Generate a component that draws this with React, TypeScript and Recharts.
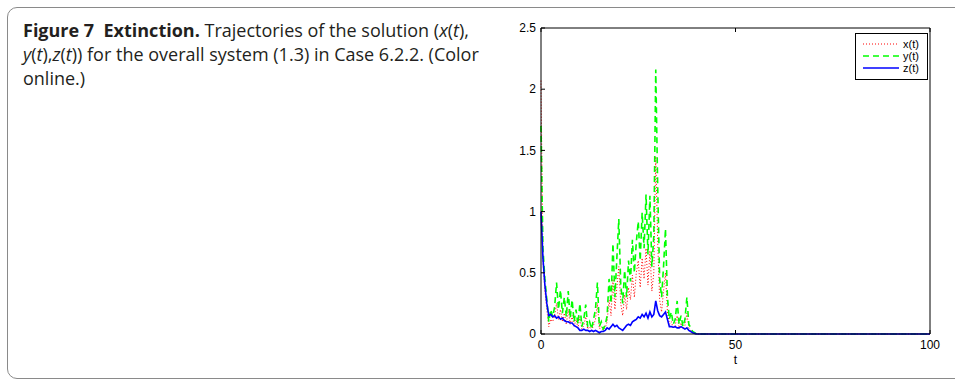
import { LineChart, Line, XAxis, YAxis, Legend } from "recharts";

// sampled every 0.5 up to t = 40, then flat at zero
const tValues = [
  0, 0.5, 1, 1.5, 2, 2.5, 3, 3.5, 4, 4.5, 5, 5.5, 6, 6.5, 7, 7.5, 8, 8.5, 9, 9.5,
  10, 10.5, 11, 11.5, 12, 12.5, 13, 13.5, 14, 14.5, 15, 15.5, 16, 16.5, 17, 17.5, 18, 18.5, 19, 19.5,
  20, 20.5, 21, 21.5, 22, 22.5, 23, 23.5, 24, 24.5, 25, 25.5, 26, 26.5, 27, 27.5, 28, 28.5, 29, 29.5,
  30, 30.5, 31, 31.5, 32, 32.5, 33, 33.5, 34, 34.5, 35, 35.5, 36, 36.5, 37, 37.5, 38, 38.5, 39, 39.5,
  40, 100,
];

const xValues = [
  2.07, 0.6, 0.35, 0.2, 0.06, 0.12, 0.1, 0.15, 0.25, 0.12, 0.2, 0.1, 0.17, 0.08, 0.2, 0.08, 0.15, 0.06, 0.12, 0.05,
  0.14, 0.04, 0.07, 0.14, 0.04, 0.06, 0.03, 0.07, 0.12, 0.25, 0.04, 0.06, 0.03, 0.05, 0.1, 0.28, 0.15, 0.45, 0.2, 0.38,
  0.55, 0.25, 0.15, 0.32, 0.2, 0.38, 0.28, 0.48, 0.3, 0.5, 0.6, 0.38, 0.62, 0.45, 0.7, 0.4, 0.68, 0.35, 0.5, 1.45,
  0.75, 0.28, 0.18, 0.35, 0.5, 0.18, 0.08, 0.1, 0.05, 0.07, 0.15, 0.05, 0.09, 0.04, 0.07, 0.17, 0.05, 0.03, 0.01, 0.005,
  0, 0,
];

const yValues = [
  1.7, 0.7, 0.45, 0.28, 0.1, 0.2, 0.14, 0.22, 0.42, 0.2, 0.36, 0.17, 0.3, 0.14, 0.35, 0.13, 0.28, 0.1, 0.2, 0.08,
  0.25, 0.06, 0.12, 0.24, 0.06, 0.1, 0.04, 0.12, 0.2, 0.42, 0.06, 0.1, 0.04, 0.07, 0.15, 0.45, 0.25, 0.74, 0.3, 0.62,
  0.94, 0.4, 0.25, 0.52, 0.3, 0.6, 0.43, 0.77, 0.5, 0.75, 0.92, 0.6, 0.99, 0.7, 1.14, 0.65, 1.13, 0.55, 0.8, 2.16,
  1.2, 0.45, 0.3, 0.55, 0.86, 0.3, 0.12, 0.18, 0.08, 0.12, 0.27, 0.08, 0.15, 0.06, 0.12, 0.3, 0.08, 0.05, 0.02, 0.01,
  0, 0,
];

const zValues = [
  1.0, 0.62, 0.4, 0.25, 0.15, 0.16, 0.14, 0.15, 0.13, 0.14, 0.12, 0.13, 0.11, 0.1, 0.1, 0.09, 0.09, 0.07, 0.06, 0.05,
  0.03, 0.03, 0.04, 0.03, 0.03, 0.02, 0.03, 0.02, 0.03, 0.02, 0.01, 0.02, 0.02, 0.03, 0.05, 0.04, 0.06, 0.08, 0.06, 0.07,
  0.05, 0.04, 0.03, 0.05, 0.07, 0.08, 0.07, 0.1, 0.11, 0.12, 0.14, 0.13, 0.16, 0.14, 0.17, 0.13, 0.18, 0.14, 0.16, 0.27,
  0.19, 0.15, 0.14, 0.16, 0.18, 0.12, 0.06, 0.06, 0.055, 0.06, 0.05, 0.05, 0.06, 0.05, 0.04, 0.05, 0.03, 0.02, 0.01, 0.005,
  0, 0,
];

const xTicks = [0, 50, 100];
const yTicks = [0, 0.5, 1, 1.5, 2, 2.5];

const seriesInfo = [
  { key: "x", label: "x(t)", color: "#ff0000", dash: "1 2", width: 1 },
  { key: "y", label: "y(t)", color: "#00ff00", dash: "6 4", width: 1.6 },
  { key: "z", label: "z(t)", color: "#0000ff", dash: undefined, width: 1.6 },
];

const data = tValues.map((t, i) => ({
  t,
  x: xValues[i],
  y: yValues[i],
  z: zValues[i],
}));

const tickFont = { fontFamily: '"Liberation Sans", Arial, sans-serif', fontSize: 12, fill: "#000" };

function LegendBox() {
  return (
    <div
      style={{
        boxSizing: "border-box",
        border: "1px solid #000",
        background: "#fff",
        width: 73,
        height: 47,
        paddingTop: 4,
        fontFamily: '"Liberation Sans", Arial, sans-serif',
        fontSize: 11,
        lineHeight: "12px",
        color: "#000",
      }}
    >
      {seriesInfo.map((s) => (
        <div key={s.key} style={{ display: "flex", alignItems: "center", height: 12 }}>
          <svg width={46} height={12} style={{ display: "block" }}>
            <line
              x1={7}
              x2={43}
              y1={6}
              y2={6}
              stroke={s.color}
              strokeWidth={s.width}
              strokeDasharray={s.dash}
            />
          </svg>
          <span style={{ marginLeft: 1 }}>{s.label}</span>
        </div>
      ))}
    </div>
  );
}

export default function App() {
  return (
    <div style={{ position: "absolute", left: 0, top: 0, width: 955, height: 380, background: "#fff", overflow: "hidden" }}>
      <div
        style={{
          position: "absolute",
          left: 7,
          top: 7,
          width: 1000,
          height: 370,
          border: "1px solid #8a8a8a",
          borderRadius: 10,
        }}
      />
      <div
        style={{
          position: "absolute",
          left: 23,
          top: 18,
          fontFamily: '"Open Sans", sans-serif',
          fontSize: 18,
          lineHeight: "24px",
          color: "#231f20",
          whiteSpace: "nowrap",
        }}
      >
        <b>Figure 7&nbsp;&nbsp;Extinction.</b> Trajectories of the solution (<i>x</i>(<i>t</i>),
        <br />
        <i>y</i>(<i>t</i>),<i>z</i>(<i>t</i>)) for the overall system (1.3) in Case 6.2.2. (Color
        <br />
        online.)
      </div>
      <div style={{ position: "absolute", left: 490, top: 0 }}>
        <LineChart width={465} height={380} data={data} margin={{ top: 27, right: 24, bottom: 26, left: 11 }}>
          <XAxis
            xAxisId="b"
            dataKey="t"
            type="number"
            domain={[0, 100]}
            ticks={xTicks}
            height={20}
            tick={tickFont}
            tickSize={-4}
            tickMargin={10}
            stroke="#000"
            label={{ value: "t", position: "bottom", offset: 1, style: tickFont }}
          />
          <XAxis
            xAxisId="top"
            orientation="top"
            dataKey="t"
            type="number"
            domain={[0, 100]}
            ticks={xTicks}
            height={1}
            tickSize={-4}
            tickFormatter={() => ""}
            stroke="#000"
          />
          <YAxis
            yAxisId="l"
            type="number"
            domain={[0, 2.5]}
            ticks={yTicks}
            width={40}
            tick={tickFont}
            tickSize={-4}
            tickMargin={9}
            stroke="#000"
          />
          <YAxis
            yAxisId="r"
            orientation="right"
            type="number"
            domain={[0, 2.5]}
            ticks={yTicks}
            width={1}
            tickSize={-4}
            tickFormatter={() => ""}
            stroke="#000"
          />
          <Legend
            layout="horizontal"
            verticalAlign="middle"
            align="center"
            content={() => <LegendBox />}
            wrapperStyle={{ position: "absolute", left: 365, top: 33, width: 73 }}
          />
          {seriesInfo.map((s) => (
            <Line
              key={s.key}
              xAxisId="b"
              yAxisId="l"
              type="linear"
              dataKey={s.key}
              stroke={s.color}
              strokeWidth={s.width}
              strokeDasharray={s.dash}
              dot={false}
              isAnimationActive={false}
            />
          ))}
        </LineChart>
      </div>
    </div>
  );
}
